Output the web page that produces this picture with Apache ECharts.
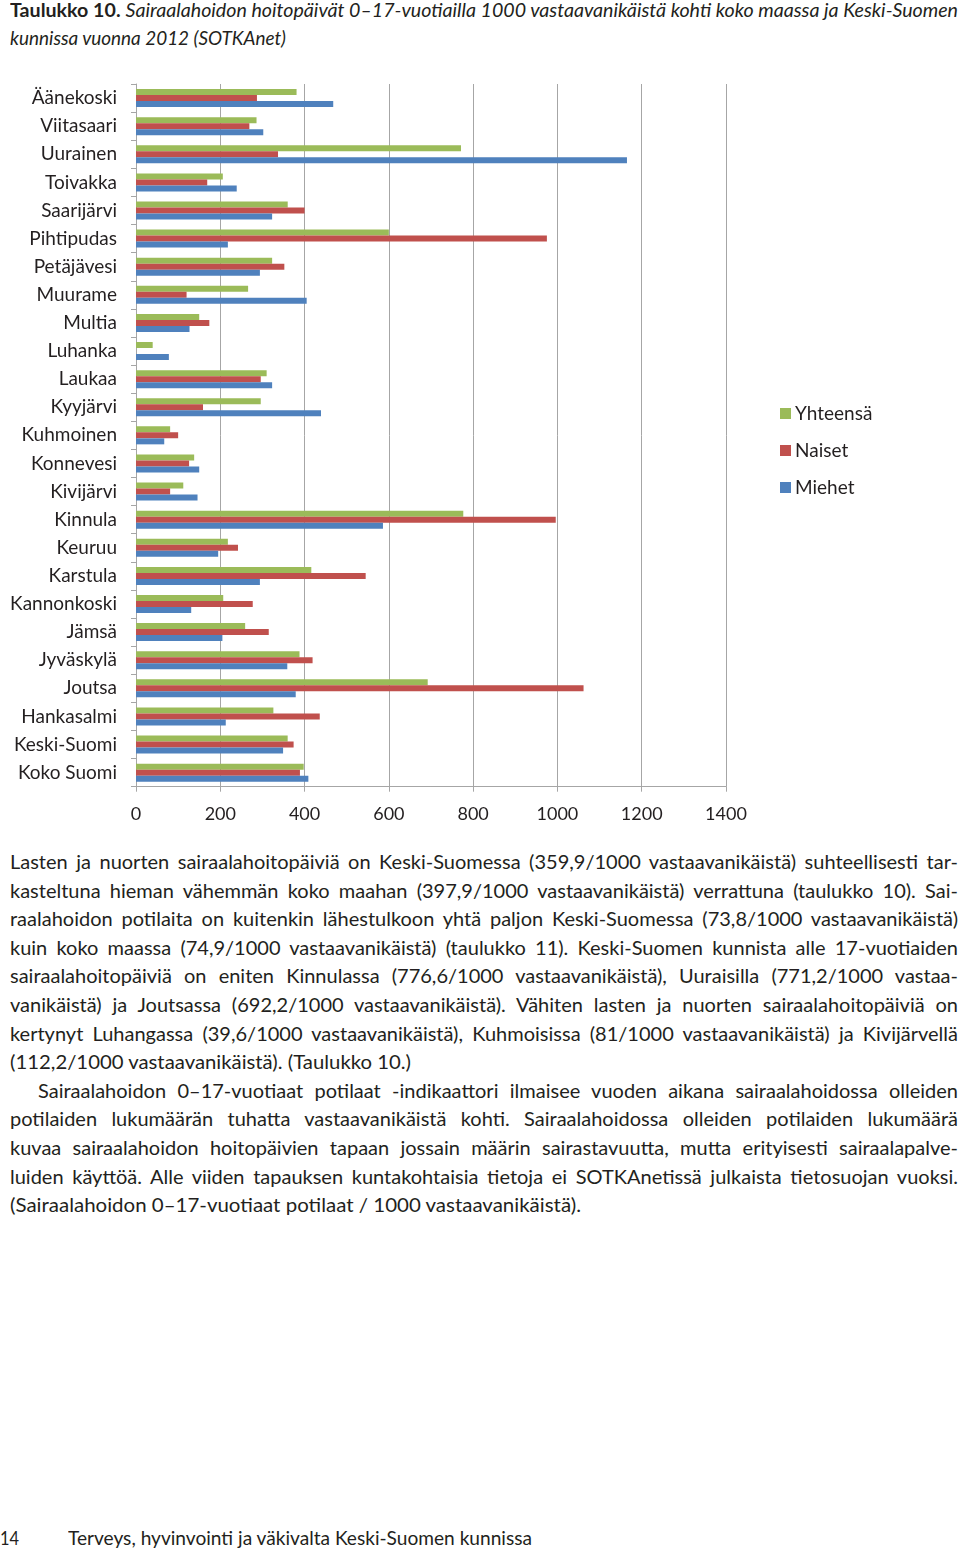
<!DOCTYPE html>
<html>
<head>
<meta charset="utf-8">
<script src="https://cdn.jsdelivr.net/npm/echarts@6/dist/echarts.min.js"></script>
<style>
  html, body { margin:0; padding:0; background:#fff; }
  #page { position:relative; width:960px; height:1552px; overflow:hidden; font-family: Lato, "Noto Sans", sans-serif; color:#231f20; }
  #chart { position:absolute; left:0; top:60px; width:960px; height:780px; }
  .line { position:absolute; white-space:nowrap; font-size:20px; line-height:24px; }
  .line span { display:inline-block; transform-origin:0 50%; }
  .title { font-size:19px; }
  .title b { font-weight:700; }
  .title i { font-style:italic; }
</style>
</head>
<body>
<div id="page">
  <div class="line title fit" data-x="10" data-y="-2" data-w="948"><span><b>Taulukko 10.</b> <i>Sairaalahoidon hoitopäivät 0–17-vuotiailla 1000 vastaavanikäistä kohti koko maassa ja Keski-Suomen</i></span></div>
  <div class="line title fit" data-x="10" data-y="26" data-w="276"><span><i>kunnissa vuonna 2012 (SOTKAnet)</i></span></div>
  <div id="chart"></div>
  <div id="text"></div>
  <div class="line fit" data-x="0" data-y="1525" data-w="19"><span>14</span></div>
  <div class="line fit" data-x="68" data-y="1525" data-w="464"><span>Terveys, hyvinvointi ja väkivalta Keski-Suomen kunnissa</span></div>
</div>
<script>
// ---- data ----
const categories = ['Äänekoski','Viitasaari','Uurainen','Toivakka','Saarijärvi','Pihtipudas','Petäjävesi','Muurame','Multia','Luhanka','Laukaa','Kyyjärvi','Kuhmoinen','Konnevesi','Kivijärvi','Kinnula','Keuruu','Karstula','Kannonkoski','Jämsä','Jyväskylä','Joutsa','Hankasalmi','Keski-Suomi','Koko Suomi'];
const yhteensa = [381, 286, 771.2, 206, 360, 600, 323, 266, 150, 39.6, 310, 296, 81, 138, 112.2, 776.6, 218, 416, 207, 259, 388, 692.2, 326, 359.9, 397.9];
const naiset   = [287, 269, 337, 169, 400, 975, 352, 120, 174, null, 296, 159, 100, 126, 81, 996, 242, 545, 277, 315, 419, 1062, 436, 374, 389];
const miehet   = [468, 302, 1165, 239, 323, 218, 294, 405, 127, 78, 323, 439, 67, 150, 146, 586, 195, 294, 131, 205, 359, 379, 213, 349, 409];
const seriesNames = ['Yhteensä', 'Naiset', 'Miehet'];
const xTicks = [0, 200, 400, 600, 800, 1000, 1200, 1400];

const paragraphLines = [
  ['Lasten ja nuorten sairaalahoitopäiviä on Keski-Suomessa (359,9/1000 vastaavanikäistä) suhteellisesti tar-', 10, 948, true],
  ['kasteltuna hieman vähemmän koko maahan (397,9/1000 vastaavanikäistä) verrattuna (taulukko 10). Sai-', 10, 948, true],
  ['raalahoidon potilaita on kuitenkin lähestulkoon yhtä paljon Keski-Suomessa (73,8/1000 vastaavanikäistä)', 10, 948, true],
  ['kuin koko maassa (74,9/1000 vastaavanikäistä) (taulukko 11). Keski-Suomen kunnista alle 17-vuotiaiden', 10, 948, true],
  ['sairaalahoitopäiviä on eniten Kinnulassa (776,6/1000 vastaavanikäistä), Uuraisilla (771,2/1000 vastaa-', 10, 948, true],
  ['vanikäistä) ja Joutsassa (692,2/1000 vastaavanikäistä). Vähiten lasten ja nuorten sairaalahoitopäiviä on', 10, 948, true],
  ['kertynyt Luhangassa (39,6/1000 vastaavanikäistä), Kuhmoisissa (81/1000 vastaavanikäistä) ja Kivijärvellä', 10, 948, true],
  ['(112,2/1000 vastaavanikäistä). (Taulukko 10.)', 10, 401, false],
  ['Sairaalahoidon 0–17-vuotiaat potilaat -indikaattori ilmaisee vuoden aikana sairaalahoidossa olleiden', 38, 920, true],
  ['potilaiden lukumäärän tuhatta vastaavanikäistä kohti. Sairaalahoidossa olleiden potilaiden lukumäärä', 10, 948, true],
  ['kuvaa sairaalahoidon hoitopäivien tapaan jossain määrin sairastavuutta, mutta erityisesti sairaalapalve-', 10, 948, true],
  ['luiden käyttöä. Alle viiden tapauksen kuntakohtaisia tietoja ei SOTKAnetissä julkaista tietosuojan vuoksi.', 10, 948, true],
  ['(Sairaalahoidon 0–17-vuotiaat potilaat / 1000 vastaavanikäistä).', 10, 571, false]
];

// ---- text block ----
const textDiv = document.getElementById('text');
paragraphLines.forEach((l, i) => {
  const d = document.createElement('div');
  d.className = 'line fit';
  d.dataset.x = l[1];
  d.dataset.y = 849 + i * 28.6;
  d.dataset.w = l[2];
  if (l[3]) d.dataset.justify = '1';
  const s = document.createElement('span');
  s.textContent = l[0];
  d.appendChild(s);
  textDiv.appendChild(d);
});

function fitLines() {
  document.querySelectorAll('.fit').forEach(d => {
    d.style.left = d.dataset.x + 'px';
    d.style.top = d.dataset.y + 'px';
    const s = d.querySelector('span');
    const target = +d.dataset.w;
    const nat = s.getBoundingClientRect().width;
    if (d.dataset.justify) {
      const words = s.textContent.split(' ').length - 1;
      if (nat < target && words > 0) {
        s.style.wordSpacing = ((target - nat) / words) + 'px';
      } else if (nat > target) {
        s.style.transform = 'scaleX(' + (target / nat) + ')';
      }
    } else {
      s.style.transform = 'scaleX(' + (target / nat) + ')';
    }
  });
}
fitLines();

// ---- chart ----
const chart = echarts.init(document.getElementById('chart'), null, { renderer: 'canvas' });
const colors = ['#9BBB59', '#C0504D', '#4F81BD'];
const seriesData = [yhteensa, naiset, miehet];
const fontFamily = 'Lato, "Noto Sans", sans-serif';
chart.setOption({
  animation: false,
  color: colors,
  textStyle: { fontFamily: fontFamily },
  grid: { left: 136, right: 234, top: 24, height: 702.7, containLabel: false },
  legend: {
    orient: 'vertical',
    left: 775,
    top: 339,
    itemWidth: 11,
    itemHeight: 11,
    itemGap: 18,
    icon: 'rect',
    data: seriesNames,
    textStyle: { fontSize: 19, color: '#231f20', fontFamily: fontFamily, padding: [0, 0, 0, -1] }
  },
  xAxis: {
    type: 'value',
    min: xTicks[0],
    max: xTicks[xTicks.length - 1],
    interval: 200,
    axisLine: { show: true, lineStyle: { color: '#A6A6A6', width: 1 } },
    axisTick: { show: true, length: 5, lineStyle: { color: '#A6A6A6' } },
    axisLabel: { fontSize: 18, color: '#231f20', margin: 18, fontFamily: fontFamily, formatter: v => String(v) },
    splitLine: { show: true, lineStyle: { color: '#A6A6A6', width: 1 } }
  },
  yAxis: {
    type: 'category',
    inverse: true,
    data: categories,
    axisLine: { show: true, lineStyle: { color: '#A6A6A6', width: 1 } },
    axisTick: { show: true, length: 5, lineStyle: { color: '#A6A6A6' } },
    axisLabel: { fontSize: 19, color: '#231f20', margin: 19, fontFamily: fontFamily }
  },
  series: seriesNames.map((n, i) => ({
    name: n,
    type: 'bar',
    data: seriesData[i],
    barWidth: 6,
    barGap: '0%',
    itemStyle: { color: colors[i] }
  }))
});
</script>
</body>
</html>
